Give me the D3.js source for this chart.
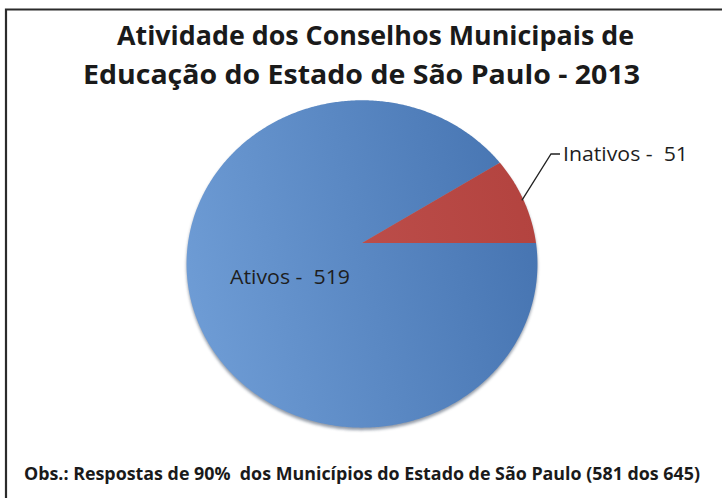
<!DOCTYPE html>
<html>
<head>
<meta charset="utf-8">
<script src="https://cdn.jsdelivr.net/npm/d3@7/dist/d3.min.js"></script>
<style>
  html, body { margin: 0; padding: 0; background: #fff; }
  svg text { white-space: pre; }
</style>
</head>
<body>
<svg id="chart" width="722" height="498"></svg>
<script>
// Data
const categories = ["Ativos", "Inativos"];
const values = [519, 51];
const titleLines = ["Atividade dos Conselhos Municipais de", "Educação do Estado de São Paulo - 2013"];
const footnote = "Obs.: Respostas de 90%  dos Municípios do Estado de São Paulo (581 dos 645)";

const svg = d3.select("#chart");
const font = "'Open Sans', 'Noto Sans', sans-serif";

// Frame (top and left edges)
svg.append("path")
  .attr("d", "M6,498 L6,9.5 L722,9.5")
  .attr("fill", "none").attr("stroke", "#2b2b2b").attr("stroke-width", 2.2);

// Title
const titlePos = [{x: 375.5, y: 45, w: 517}, {x: 361.5, y: 84, w: 557}];
svg.selectAll("text.title").data(titleLines).join("text")
  .attr("class", "title")
  .attr("x", (d, i) => titlePos[i].x)
  .attr("y", (d, i) => titlePos[i].y)
  .attr("text-anchor", "middle")
  .attr("textLength", (d, i) => titlePos[i].w)
  .attr("lengthAdjust", "spacingAndGlyphs")
  .attr("font-family", font).attr("font-weight", "bold").attr("font-size", 27)
  .attr("fill", "#1a1a1a")
  .text(d => d);

// Pie seen in perspective: unit-disc points are projected onto the page
const cx = 362, cy = 243, A = 174, B = 161, k = -0.128;
function project(angle, r) {
  const u = r * Math.sin(angle), v = -r * Math.cos(angle);
  const w = 1 + k * v;
  return [cx + A * u / w, cy + B * v / w];
}
function slicePath(d) {
  const pts = [project(0, 0)];
  const n = Math.max(4, Math.ceil((d.endAngle - d.startAngle) / 0.01));
  for (let i = 0; i <= n; i++) {
    pts.push(project(d.startAngle + (d.endAngle - d.startAngle) * i / n, 1));
  }
  return d3.line()(pts) + "Z";
}

const pie = d3.pie().sort(null).value(d => d)
  .startAngle(Math.PI / 2).endAngle(Math.PI / 2 + 2 * Math.PI);
const arcs = pie(values);

const defs = svg.append("defs");
const grads = [
  {id: "gBlue", c0: "#6e9cd5", c1: "#4674b1"},
  {id: "gRed", c0: "#c45754", c1: "#b3433f"}
];
grads.forEach(g => {
  const lg = defs.append("linearGradient").attr("id", g.id)
    .attr("gradientUnits", "userSpaceOnUse")
    .attr("x1", 185).attr("y1", 290).attr("x2", 537).attr("y2", 210);
  lg.append("stop").attr("offset", 0).attr("stop-color", g.c0);
  lg.append("stop").attr("offset", 1).attr("stop-color", g.c1);
});
defs.append("filter").attr("id", "soft")
  .append("feGaussianBlur").attr("stdDeviation", 1.6);

// Soft shadow along the lower rim
const rim = d3.range(0, 2 * Math.PI + 0.001, 0.01).map(a => project(a, 1));
svg.append("path")
  .attr("d", d3.line()(rim.map(p => [p[0], p[1] + 2.5])) + "Z")
  .attr("fill", "#3a4a60").attr("opacity", 0.55).attr("filter", "url(#soft)");

const fills = ["url(#gBlue)", "url(#gRed)"];
svg.selectAll("path.slice").data(arcs).join("path")
  .attr("class", "slice")
  .attr("d", slicePath)
  .attr("fill", (d, i) => fills[i]);

// Labels
const fmt = (i) => categories[i] + " -  " + values[i];
svg.append("text")
  .attr("x", 230).attr("y", 284)
  .attr("textLength", 120).attr("lengthAdjust", "spacingAndGlyphs")
  .attr("font-family", font).attr("font-size", 19.5).attr("fill", "#1e1e1e")
  .text(fmt(0));

// Leader line for the small slice
const mid = (arcs[1].startAngle + arcs[1].endAngle) / 2;
const pEdge = project(mid, 0.99);
svg.append("polyline")
  .attr("points", [pEdge, [551, 154], [560, 154]].map(p => p.join(",")).join(" "))
  .attr("fill", "none").attr("stroke", "#222").attr("stroke-width", 1.3);
svg.append("text")
  .attr("x", 563).attr("y", 161)
  .attr("textLength", 125).attr("lengthAdjust", "spacingAndGlyphs")
  .attr("font-family", font).attr("font-size", 19.5).attr("fill", "#1e1e1e")
  .text(fmt(1));

// Footnote
svg.append("text")
  .attr("x", 362).attr("y", 480)
  .attr("text-anchor", "middle")
  .attr("textLength", 676)
  .attr("lengthAdjust", "spacingAndGlyphs")
  .attr("font-family", font).attr("font-weight", "bold").attr("font-size", 17)
  .attr("fill", "#1a1a1a")
  .text(footnote);
</script>
</body>
</html>
